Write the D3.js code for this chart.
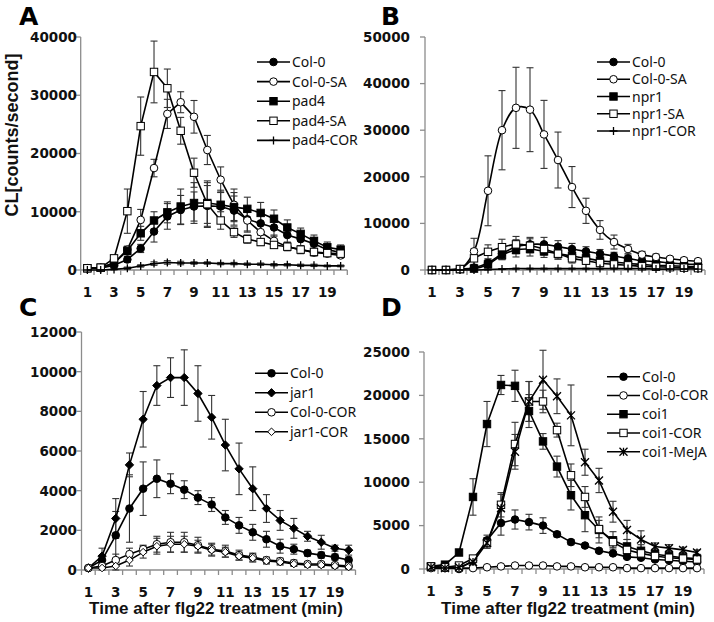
<!DOCTYPE html>
<html><head><meta charset="utf-8">
<script src="https://cdn.jsdelivr.net/npm/d3@7"></script>
<style>body{margin:0;background:#fff}svg{display:block}</style>
</head><body>
<svg id="c" width="714" height="622"></svg>
<script>
// ---------- DATA ----------
const minutes = d3.range(1, 21);
const xTickLabels = [1,3,5,7,9,11,13,15,17,19];

// Panel A
const aNames = ["Col-0","Col-0-SA","pad4","pad4-SA","pad4-COR"];
const aCol0      = [300,300,800,1800,3700,6600,9200,10300,10900,11000,10900,10200,8700,8000,7300,6000,5300,4500,3500,3000];
const aCol0Err   = [100,100,300,500,700,1800,2200,2500,2500,3500,2500,2500,2000,2000,1500,1200,1200,1000,800,700];
const aCol0SA    = [300,400,1200,3500,8600,17500,26800,28800,26300,20600,15500,11200,8500,6500,5000,4000,3500,3000,2800,2500];
const aCol0SAErr = [100,100,300,600,1800,1500,2500,1800,2800,2500,2200,2700,2000,1500,1000,700,700,600,500,400];
const aPad4      = [300,400,1200,3300,6300,8500,9900,10900,11500,11500,11200,10800,10500,9800,8800,7300,6200,5000,3900,3500];
const aPad4Err   = [100,100,300,700,1200,1500,1800,3000,3500,3500,2500,2500,2000,1800,1500,1300,1000,1000,900,800];
const aPad4SA    = [300,400,2000,10100,24700,34000,31200,23900,16700,11300,8500,6500,5300,4800,4300,4000,3500,3100,2900,2800];
const aPad4SAErr = [100,100,500,3800,5000,5300,3300,2300,2500,4000,1500,900,700,600,500,500,400,400,400,400];
const aPad4COR   = [0,0,100,300,700,1100,1300,1200,1200,1200,1100,1100,1000,1000,900,900,800,800,700,700];
const aPad4CORErr= [50,50,100,200,200,300,300,300,200,200,200,200,200,200,200,200,200,200,150,150];
const aTicks = [0,10000,20000,30000,40000];

// Panel B
const bNames = ["Col-0","Col-0-SA","npr1","npr1-SA","npr1-COR"];
const bCol0      = [0,0,200,500,1500,3500,5000,5500,5500,5000,4500,4000,3500,3000,2500,2000,1800,1500,1300,1200];
const bCol0Err   = [100,100,200,500,800,1200,1500,1500,1500,1300,1200,1000,900,800,700,600,500,500,400,400];
const bCol0SA    = [0,0,200,4000,17000,30000,34800,34400,29100,23600,17800,12700,8600,6000,4500,3300,2800,2400,2100,1900];
const bCol0SAErr = [100,100,200,2800,7500,8500,8700,9000,7300,6000,4400,2700,2000,1500,1000,700,600,500,500,500];
const bNpr1      = [0,0,200,300,1200,3200,4300,4500,4000,3500,3000,2500,2000,1700,1400,1200,1000,900,800,700];
const bNpr1Err   = [100,100,200,300,600,1000,1500,1500,1300,1200,1000,900,800,700,600,500,500,400,400,300];
const bNpr1SA    = [0,0,200,2500,3900,4900,5500,5200,4500,3500,2500,2000,1500,1200,1000,800,700,600,500,400];
const bNpr1SAErr = [100,100,200,2000,1500,1700,1700,1500,1300,1100,1000,800,700,600,500,400,400,300,300,300];
const bNpr1COR   = [0,0,0,0,100,200,300,300,300,300,300,300,300,300,300,300,200,200,200,200];
const bNpr1CORErr= [0,0,0,0,100,100,100,100,100,100,100,100,100,100,100,100,100,100,100,100];
const bTicks = [0,10000,20000,30000,40000,50000];

// Panel C
const cNames = ["Col-0","jar1","Col-0-COR","jar1-COR"];
const cCol0      = [100,500,1750,3100,4100,4600,4350,4050,3650,3300,2650,2250,1900,1550,1200,1050,850,750,650,500];
const cCol0Err   = [50,200,1200,1700,1350,950,500,450,350,350,350,400,400,400,350,250,150,150,150,150];
const cJar1      = [100,700,2600,5300,7600,9300,9700,9700,8900,7700,6300,5100,4100,3100,2500,2100,1700,1400,1100,1000];
const cJar1Err   = [50,400,1000,600,1400,1000,1000,1400,1400,1100,1300,1300,1100,700,500,500,250,350,150,250];
const cCol0COR   = [100,200,500,800,1050,1300,1400,1400,1250,1050,950,750,650,500,450,350,300,300,250,200];
const cCol0CORErr= [50,100,300,300,200,400,500,500,400,300,300,250,200,150,150,150,100,100,100,100];
const cJar1COR   = [100,100,200,500,900,1200,1300,1300,1200,1000,900,700,600,450,400,300,250,250,200,150];
const cJar1CORErr= [50,100,200,300,300,400,400,400,300,300,250,200,200,150,150,100,100,100,100,100];
const cTicks = [0,2000,4000,6000,8000,10000,12000];

// Panel D
const dNames = ["Col-0","Col-0-COR","coi1","coi1-COR","coi1-MeJA"];
const dCol0      = [200,200,0,1000,3300,5300,5700,5400,5000,4000,3100,2700,2100,1800,1400,1300,1100,1000,900,800];
const dCol0Err   = [100,100,100,300,600,1400,1100,900,900,300,300,200,200,200,200,200,200,200,200,200];
const dCol0COR   = [100,100,100,100,200,300,400,400,400,300,300,200,200,200,100,100,100,100,100,100];
const dCol0CORErr= [50,50,50,50,50,50,50,50,50,50,50,50,50,50,50,50,50,50,50,50];
const dCoi1      = [300,500,1900,8300,16700,21200,21100,18200,14700,11800,8500,6200,4500,3300,2600,2100,1700,1500,1300,1200];
const dCoi1Err   = [100,200,300,2100,2600,1100,1800,1900,900,1200,1700,1900,1500,1000,800,700,600,600,500,500];
const dCoi1COR   = [300,200,400,1200,3000,7400,14400,19300,19300,16000,10800,8300,4600,3100,2200,1800,1500,1300,1200,1100];
const dCoi1CORErr= [100,100,200,300,600,1400,2500,2300,1300,800,1300,1200,1000,600,500,400,400,400,300,300];
const dCoi1MeJA  = [200,100,200,800,3000,7000,13500,19300,21800,19900,17700,12300,10200,6600,4500,3400,2600,2400,2200,1900];
const dCoi1MeJAErr=[100,100,100,300,600,1600,2000,2300,3400,2000,3500,1500,1400,1200,1100,1000,400,400,300,300];
const dTicks = [0,5000,10000,15000,20000,25000];

const xTitle = "Time after flg22 treatment (min)";
const yTitle = "CL[counts/second]";

// ---------- DRAW ----------
const svg = d3.select("#c");
const tickFont = "'DejaVu Sans', sans-serif";
const axisColor = "#8c8c8c";

function markerPath(type, s) {
  const h = s / 2;
  switch (type) {
    case "plus": return `M${-h},0L${h},0M0,${-h}L0,${h}`;
    case "star": return `M${-h},${-h}L${h},${h}M${-h},${h}L${h},${-h}M0,${-h}L0,${h}`;
    default: return "";
  }
}
function drawMarker(g, type, x, y) {
  const fill = /filled/.test(type) ? "#000" : "#fff";
  if (type.startsWith("circle")) {
    g.append("circle").attr("cx", x).attr("cy", y).attr("r", 3.8)
      .attr("fill", fill).attr("stroke", "#000").attr("stroke-width", 1);
  } else if (type.startsWith("square")) {
    g.append("rect").attr("x", x - 3.7).attr("y", y - 3.7).attr("width", 7.4).attr("height", 7.4)
      .attr("fill", fill).attr("stroke", "#000").attr("stroke-width", 1);
  } else if (type.startsWith("diamond")) {
    const r = type === "diamond-filled" ? 4.2 : 3.8;
    g.append("path").attr("d", `M${x},${y-r}L${x+r},${y}L${x},${y+r}L${x-r},${y}Z`)
      .attr("fill", fill).attr("stroke", "#000").attr("stroke-width", 1);
  } else {
    g.append("path").attr("transform", `translate(${x},${y})`).attr("d", markerPath(type, 8))
      .attr("fill", "none").attr("stroke", "#000").attr("stroke-width", 1.3);
  }
}

function drawPanel(p) {
  const g = svg.append("g");
  const x = d3.scaleLinear().domain([0.5, 20.5]).range(p.xRange);
  const y = d3.scaleLinear().domain([0, p.yMax]).range(p.yRange);
  const x0 = p.xRange[0], y0 = p.yRange[0];

  // y axis
  g.append("line").attr("x1", x0).attr("x2", x0).attr("y1", y(p.yMax)).attr("y2", y0)
    .attr("stroke", axisColor).attr("stroke-width", 1.3);
  p.ticks.forEach(t => {
    g.append("line").attr("x1", x0 - 5).attr("x2", x0).attr("y1", y(t)).attr("y2", y(t))
      .attr("stroke", axisColor).attr("stroke-width", 1.3);
    g.append("text").attr("x", p.yLabelX).attr("y", y(t)).attr("dy", "0.36em")
      .attr("text-anchor", "end").attr("font-family", tickFont).attr("font-weight", "bold")
      .attr("font-size", 13.5).attr("fill", "#111").text(t);
  });
  // x axis
  g.append("line").attr("x1", x0).attr("x2", p.xRange[1]).attr("y1", y0).attr("y2", y0)
    .attr("stroke", axisColor).attr("stroke-width", 1.3);
  d3.range(0.5, 21, 1).forEach(t => {
    g.append("line").attr("x1", x(t)).attr("x2", x(t)).attr("y1", y0).attr("y2", y0 + 5)
      .attr("stroke", axisColor).attr("stroke-width", 1.3);
  });
  xTickLabels.forEach(t => {
    g.append("text").attr("x", x(t)).attr("y", y0 + 27).attr("text-anchor", "middle")
      .attr("font-family", tickFont).attr("font-weight", "bold").attr("font-size", 13.5)
      .attr("fill", "#111").text(t);
  });

  const line = d3.line().x((d, i) => x(minutes[i])).y(d => y(d)).curve(p.curve);

  // error bars
  p.series.forEach(s => {
    const eg = g.append("g").attr("stroke", "#333").attr("stroke-width", 1.1);
    s.values.forEach((v, i) => {
      const cx = x(minutes[i]);
      const lo = y(Math.max(0, v - s.err[i])), hi = y(v + s.err[i]);
      eg.append("line").attr("x1", cx).attr("x2", cx).attr("y1", lo).attr("y2", hi);
      eg.append("line").attr("x1", cx - 3.5).attr("x2", cx + 3.5).attr("y1", lo).attr("y2", lo);
      eg.append("line").attr("x1", cx - 3.5).attr("x2", cx + 3.5).attr("y1", hi).attr("y2", hi);
    });
  });
  // lines and markers
  p.series.forEach(s => {
    g.append("path").attr("d", line(s.values)).attr("fill", "none")
      .attr("stroke", "#000").attr("stroke-width", 1.6);
    const mg = g.append("g");
    s.values.forEach((v, i) => drawMarker(mg, s.marker, x(minutes[i]), y(v)));
  });

  // legend
  p.series.forEach((s, i) => {
    const ly = p.legend.y + i * p.legend.dy;
    g.append("line").attr("x1", p.legend.x).attr("x2", p.legend.x + 33).attr("y1", ly).attr("y2", ly)
      .attr("stroke", "#000").attr("stroke-width", 1.6);
    drawMarker(g, s.marker, p.legend.x + 16.5, ly);
    g.append("text").attr("x", p.legend.x + 35).attr("y", ly).attr("dy", "0.36em")
      .attr("font-family", "'Noto Sans', sans-serif").attr("font-size", 14).attr("fill", "#111")
      .text(s.name);
  });

  // panel letter
  g.append("text").attr("x", p.letterPos[0]).attr("y", p.letterPos[1])
    .attr("font-family", "'DejaVu Sans', sans-serif").attr("font-weight", "bold")
    .attr("font-size", 25).attr("fill", "#000").text(p.letter);

  if (p.xTitle) {
    g.append("text").attr("x", p.xTitleX).attr("y", 614).attr("text-anchor", "middle")
      .attr("font-family", "'Liberation Sans', Arial, sans-serif").attr("font-weight", "bold")
      .attr("font-size", 17).attr("fill", "#111").text(xTitle);
  }
}

const mk = (names, vals, errs, markers) => names.map((n, i) => ({name: n, values: vals[i], err: errs[i], marker: markers[i]}));

drawPanel({
  letter: "A", letterPos: [19, 25], xRange: [80.7, 347.3], yRange: [270, 37], yMax: 40000, ticks: aTicks,
  yLabelX: 77, curve: d3.curveLinear, legend: {x: 257, y: 62, dy: 19.6},
  series: mk(aNames, [aCol0, aCol0SA, aPad4, aPad4SA, aPad4COR],
    [aCol0Err, aCol0SAErr, aPad4Err, aPad4SAErr, aPad4CORErr],
    ["circle-filled", "circle-open", "square-filled", "square-open", "plus"])
});
drawPanel({
  letter: "B", letterPos: [381, 25], xRange: [425, 705], yRange: [270, 37], yMax: 50000, ticks: bTicks,
  yLabelX: 410, curve: d3.curveCatmullRom.alpha(0.5), legend: {x: 597, y: 62, dy: 17.25},
  series: mk(bNames, [bCol0, bCol0SA, bNpr1, bNpr1SA, bNpr1COR],
    [bCol0Err, bCol0SAErr, bNpr1Err, bNpr1SAErr, bNpr1CORErr],
    ["circle-filled", "circle-open", "square-filled", "square-open", "plus"])
});
drawPanel({
  letter: "C", letterPos: [19, 316], xRange: [81.5, 355.5], yRange: [570, 332], yMax: 12000, ticks: cTicks,
  yLabelX: 77, curve: d3.curveLinear, legend: {x: 255, y: 373.3, dy: 19.5}, xTitle: true, xTitleX: 216,
  series: mk(cNames, [cCol0, cJar1, cCol0COR, cJar1COR],
    [cCol0Err, cJar1Err, cCol0CORErr, cJar1CORErr],
    ["circle-filled", "diamond-filled", "circle-open", "diamond-open"])
});
drawPanel({
  letter: "D", letterPos: [381, 316], xRange: [424, 704], yRange: [569, 352], yMax: 25000, ticks: dTicks,
  yLabelX: 410, curve: d3.curveLinear, legend: {x: 607, y: 376.7, dy: 18.75}, xTitle: true, xTitleX: 568,
  series: mk(dNames, [dCol0, dCol0COR, dCoi1, dCoi1COR, dCoi1MeJA],
    [dCol0Err, dCol0CORErr, dCoi1Err, dCoi1CORErr, dCoi1MeJAErr],
    ["circle-filled", "circle-open", "square-filled", "square-open", "star"])
});

// y-axis title (panel A)
svg.append("text").attr("transform", "translate(18,135) rotate(-90)").attr("text-anchor", "middle")
  .attr("font-family", "'Liberation Sans', Arial, sans-serif").attr("font-weight", "bold")
  .attr("font-size", 18).attr("fill", "#111").text(yTitle);
</script>
</body></html>
